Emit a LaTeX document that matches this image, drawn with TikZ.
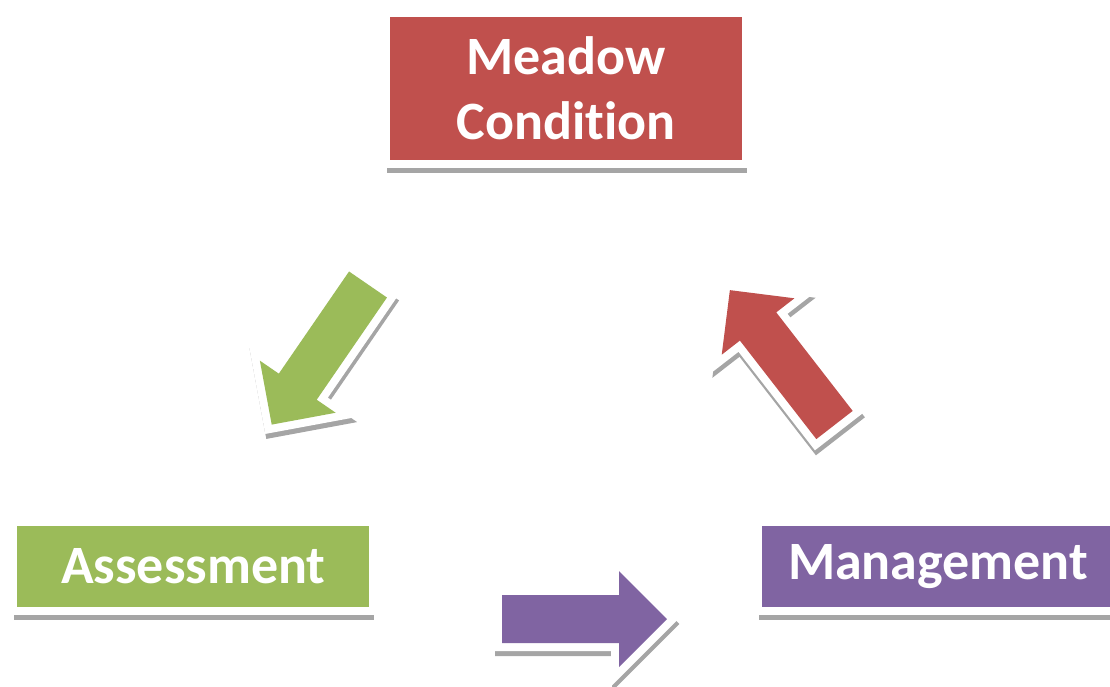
\documentclass[tikz,border=0pt]{standalone}
\usepackage{fontspec}
\newfontfamily\cyclefont[Ligatures=NoCommon]{Carlito}
\usepackage{xcolor}
\usetikzlibrary{shadows}

\definecolor{meadowred}{HTML}{C0504D}
\definecolor{assessgreen}{HTML}{9BBB59}
\definecolor{managepurple}{HTML}{8064A2}
\definecolor{shadowgray}{HTML}{A5A5A5}

\tikzset{
  stagebox/.style={fill=#1, draw=white, line width=8pt, minimum width=360pt,
    minimum height=89pt, inner sep=0pt, text=white, align=center,
    font=\cyclefont\bfseries\fontsize{54}{65}\selectfont,
    drop shadow={shadow xshift=1pt, shadow yshift=-9pt, fill=shadowgray, opacity=1}},
  arrowrim/.style={draw=white, fill=white, line width=16pt, line join=miter},
  arrowshadow/.style={draw=shadowgray, fill=shadowgray, line width=16pt, line join=miter}
}

% block arrow: colour, tail x, tail y, angle, shaft length, shaft width
\newcommand{\cyclearrow}[6]{%
  \begin{scope}[shift={({#2+1},{#3+5})}, rotate=#4]
    \path[arrowshadow] (0,-#6/2) -- (#5,-#6/2) -- (#5,-#6) -- (#5+#6,0) -- (#5,#6) -- (#5,#6/2) -- (0,#6/2) -- cycle;
  \end{scope}
  \begin{scope}[shift={(#2,#3)}, rotate=#4]
    \path[arrowrim] (0,-#6/2) -- (#5,-#6/2) -- (#5,-#6) -- (#5+#6,0) -- (#5,#6) -- (#5,#6/2) -- (0,#6/2) -- cycle;
    \fill[#1] (0,-#6/2) -- (#5,-#6/2) -- (#5,-#6) -- (#5+#6,0) -- (#5,#6) -- (#5,#6/2) -- (0,#6/2) -- cycle;
  \end{scope}
}

\begin{document}
\begin{tikzpicture}[x=1pt, y=-1pt]
    \path[use as bounding box, clip] (0,0) rectangle (1110,686);

    % Stages
    \node[stagebox=meadowred, minimum height=151pt] (meadow) at (566,88.5) {Meadow\\Condition};
    \node[stagebox=assessgreen] (assess) at (193.3,566.3) {Assessment};
    \node[stagebox=managepurple] (manage) at (938,566.3) {Management};

    % Arrows between stages
    \cyclearrow{assessgreen}{368}{284.5}{235.5}{124}{46}
    \cyclearrow{managepurple}{502}{619}{0}{117}{48}
    \cyclearrow{meadowred}{834.5}{425}{127.8}{124.7}{46}

\end{tikzpicture}
\end{document}
